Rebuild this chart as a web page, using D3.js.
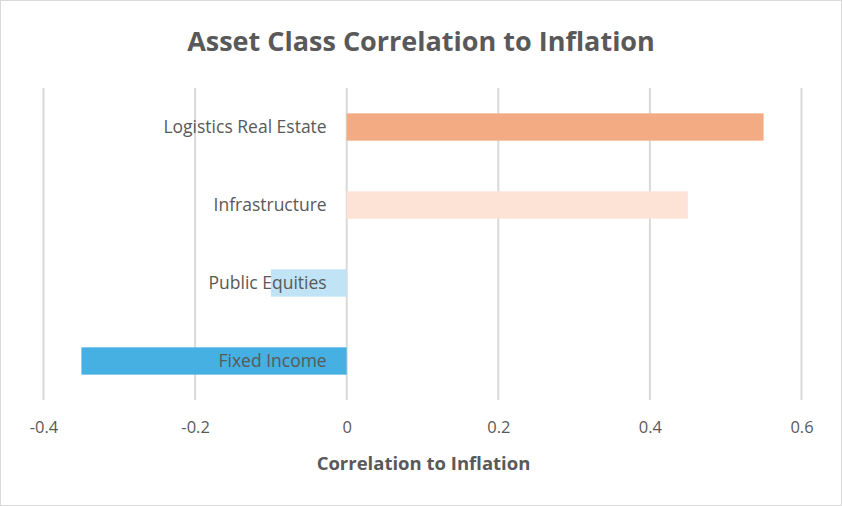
<!DOCTYPE html>
<html>
<head>
<meta charset="utf-8">
<script src="https://cdn.jsdelivr.net/npm/d3@7/dist/d3.min.js"></script>
<style>
  html, body { margin: 0; padding: 0; background: #fff; }
  svg { display: block; }
  text { font-family: "Open Sans", "Noto Sans", sans-serif; fill: #595959; }
</style>
</head>
<body>
<svg id="chart" width="842" height="506"></svg>
<script>
const categories = ['Logistics Real Estate', 'Infrastructure', 'Public Equities', 'Fixed Income'];
const values = [0.55, 0.45, -0.1, -0.35];
const colors = ['#F3AB83', '#FCE3D6', '#C0E4F5', '#45B0E1'];
const ticks = [-0.4, -0.2, 0, 0.2, 0.4, 0.6];

const svg = d3.select('#chart');
const W = 842, H = 506;
const m = { top: 88, right: 40.5, bottom: 106, left: 43.5 };

svg.append('rect')
  .attr('x', 0.5).attr('y', 0.5)
  .attr('width', W - 1).attr('height', H - 1)
  .attr('fill', '#fff')
  .attr('stroke', '#d9d9d9')

const x = d3.scaleLinear()
  .domain([-0.4, 0.6])
  .range([m.left, W - m.right])

const y = d3.scaleBand()
  .domain(categories)
  .range([m.top, H - m.bottom])
  .paddingInner(0.65)
  .paddingOuter(0.325)

// grid
svg.append('g')
  .selectAll('line')
  .data(ticks)
  .enter()
  .append('line')
  .attr('x1', d => x(d)).attr('x2', d => x(d))
  .attr('y1', m.top).attr('y2', H - m.bottom)
  .attr('stroke', '#d9d9d9')
  .attr('stroke-width', 2)

// bars
svg.append('g')
  .selectAll('rect')
  .data(values)
  .enter()
  .append('rect')
  .attr('x', d => x(Math.min(0, d)))
  .attr('y', (d, i) => y(categories[i]))
  .attr('width', d => Math.abs(x(d) - x(0)))
  .attr('height', y.bandwidth())
  .attr('fill', (d, i) => colors[i])

// category labels
const yAxis = svg.append('g')
  .attr('transform', `translate(${x(0) - 14},0)`)
  .call(d3.axisLeft(y).tickSize(0).tickPadding(6))
yAxis.select('.domain').remove()
yAxis.selectAll('text')
  .style('font-size', '17.5px')
  .attr('fill', '#595959')

// x axis tick labels
const xAxis = svg.append('g')
  .attr('transform', `translate(0,${H - m.bottom})`)
  .call(d3.axisBottom(x).tickValues(ticks).tickSize(0).tickPadding(21)
    .tickFormat(d => d === 0 ? '0' : String(d3.format('.1f')(d)).replace('\u2212', '-')))
xAxis.select('.domain').remove()
xAxis.selectAll('text')
  .style('font-size', '16.5px')
  .attr('fill', '#595959')

svg.append('text')
  .attr('x', W / 2).attr('y', 51)
  .attr('text-anchor', 'middle')
  .style('font-size', '27px')
  .style('font-weight', 'bold')
  .text('Asset Class Correlation to Inflation')

svg.append('text')
  .attr('x', x(0.1) + 1).attr('y', 470)
  .attr('text-anchor', 'middle')
  .style('font-size', '18.5px')
  .style('font-weight', 'bold')
  .text('Correlation to Inflation')
</script>
</body>
</html>
